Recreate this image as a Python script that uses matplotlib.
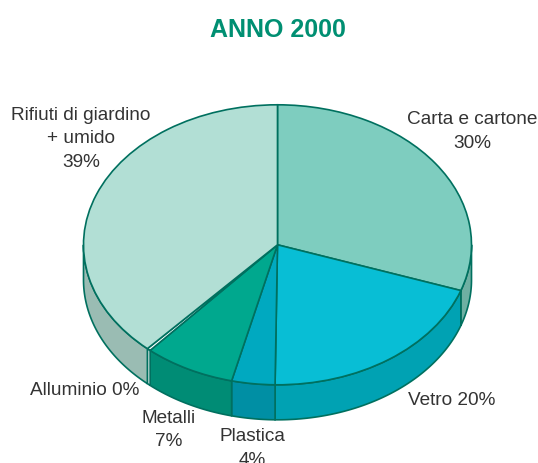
#!/usr/bin/env python3

# Import special modules ...
import matplotlib
matplotlib.rcParams.update(
    {
             "backend" : "Agg",
          "figure.dpi" : 100,
         "font.family" : ["Liberation Sans", "DejaVu Sans"],
    }
)
import matplotlib.pyplot
import numpy

# Define data ...
title = "ANNO 2000"
names = ["Carta e cartone", "Vetro", "Plastica", "Metalli", "Alluminio", "Rifiuti di giardino\n+ umido"]
printed = [30, 20, 4, 7, 0, 39]                                                 # [%]
shares = [30.3, 19.9, 3.6, 7.6, 0.3, 38.3]                                      # [%] as drawn
tops = ["#7ECDBF", "#08BED5", "#00A9C0", "#00A88E", "#FFFFFF", "#B2DFD5"]
sides = ["#6FB0A3", "#00A2B3", "#008FA4", "#008C75", "#FFFFFF", "#9ABCB3"]
edge = "#00705F"

# Define layout (pixels in the 538x464 image) ...
cx, cy = 277.5, 245.8
rx, ry = 194.0, 140.0
depth = 35.0
templates = ["{n}\n{v:d}%", "{n} {v:d}%", "{n}\n{v:d}%", "{n}\n{v:d}%", "{n} {v:d}%", "{n}\n{v:d}%"]
labelPos = [(472.5, 131.5), (452, 401), (252, 448.5), (169, 430), (85, 391), (81, 139)]

# Create figure and axis ...
fg = matplotlib.pyplot.figure(figsize = (5.38, 4.64))
ax = fg.add_axes([0, 0, 1, 1])

# Plot top of the pie ...
ax.pie(
    shares,
       colors = tops,
      counterclock = False,
    startangle = 90,
     wedgeprops = {"edgecolor" : edge, "linewidth" : 1.2, "zorder" : 3},
)
ax.set_aspect("auto")
ax.set_xlim(-cx / rx, (538.0 - cx) / rx)
ax.set_ylim((cy - 464.0) / ry, cy / ry)
ax.axis("off")

# Plot the visible wall of each slice ...
drop = depth / ry
ends = numpy.cumsum(shares) * 3.6                                               # [°] clockwise from the top
starts = ends - numpy.array(shares) * 3.6                                       # [°]
for start, end, color in zip(starts, ends, sides):
    a0 = max(start, 90.0)
    a1 = min(end, 270.0)
    if a1 <= a0:
        continue
    ang = numpy.radians(numpy.linspace(a0, a1, 100))
    x = numpy.sin(ang)
    y = numpy.cos(ang)
    ax.fill(
        numpy.concatenate([x, x[::-1]]),
        numpy.concatenate([y, y[::-1] - drop]),
        facecolor = color,
        edgecolor = edge,
        linewidth = 1.2,
           zorder = 2,
    )

# Plot the labels ...
for name, value, template, (px, py) in zip(names, printed, templates, labelPos):
    ax.text(
        (px - cx) / rx,
        (cy - py) / ry,
        template.format(n = name, v = value),
             color = "#333333",
          fontsize = 13.7,
                ha = "center",
                va = "center",
        linespacing = 1.5,
            zorder = 5,
    )

# Plot the title ...
ax.text(
    0.0,
    (cy - 30.5) / ry,
    title,
         color = "#008F72",
      fontsize = 18,
    fontweight = "bold",
            ha = "center",
            va = "center",
)

# Save figure ...
fg.savefig("out.png", dpi = 100)
matplotlib.pyplot.close(fg)
